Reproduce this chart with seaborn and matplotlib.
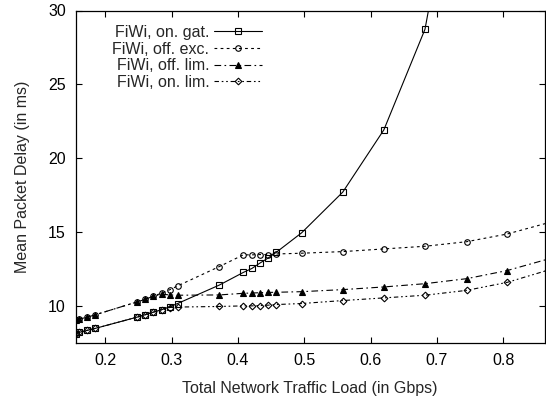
import numpy as np
import pandas as pd
import matplotlib
matplotlib.use("Agg")
import matplotlib.pyplot as plt
import seaborn as sns

# ---- data ----
load_all = [0.155, 0.161, 0.173, 0.185, 0.248, 0.260, 0.272, 0.285, 0.297, 0.309,
            0.372, 0.408, 0.421, 0.433, 0.446, 0.458, 0.496, 0.558, 0.620, 0.682,
            0.745, 0.806, 0.868]
load_gat = [0.155, 0.161, 0.173, 0.185, 0.248, 0.260, 0.272, 0.285, 0.297, 0.309,
            0.372, 0.408, 0.421, 0.433, 0.446, 0.458, 0.496, 0.558, 0.620, 0.682,
            0.745]

on_gat = [8.16, 8.24, 8.38, 8.51, 9.27, 9.43, 9.60, 9.77, 9.97, 10.19,
          11.44, 12.29, 12.56, 12.92, 13.28, 13.66, 14.97, 17.72, 21.93, 28.73,
          44.0]
off_exc = [9.05, 9.14, 9.27, 9.43, 10.30, 10.47, 10.70, 10.88, 11.12, 11.38,
           12.69, 13.48, 13.48, 13.50, 13.50, 13.54, 13.59, 13.70, 13.88, 14.06,
           14.37, 14.89, 15.65]
off_lim = [9.05, 9.14, 9.27, 9.43, 10.30, 10.47, 10.68, 10.82, 10.77, 10.75,
           10.77, 10.88, 10.90, 10.92, 10.94, 10.95, 10.99, 11.13, 11.31, 11.53,
           11.87, 12.42, 13.20]
on_lim = [8.16, 8.24, 8.38, 8.51, 9.27, 9.43, 9.60, 9.77, 9.92, 9.95,
          9.99, 10.03, 10.03, 10.05, 10.08, 10.12, 10.19, 10.39, 10.57, 10.75,
          11.08, 11.62, 12.45]

labels = ["FiWi, on. gat.", "FiWi, off. exc.", "FiWi, off. lim.", "FiWi, on. lim."]
x_ticks = [0.2, 0.3, 0.4, 0.5, 0.6, 0.7, 0.8]
y_ticks = [10, 15, 20, 25, 30]

# ---- style ----
sns.set_style("ticks")
plt.rcParams["font.family"] = ["Liberation Sans", "DejaVu Sans"]
plt.rcParams["font.size"] = 11.5

fig = plt.figure(figsize=(5.46, 3.98), dpi=100)
ax = fig.add_axes([75.5 / 546, 1 - 343.3 / 398, (545 - 75.5) / 546, (343.3 - 10.5) / 398])

series = [
    (load_gat, on_gat, labels[0], "s", "none", "-"),
    (load_all, off_exc, labels[1], "o", "none", (0, (2.5, 3))),
    (load_all, off_lim, labels[2], "^", "k", (0, (6, 3, 1.5, 3))),
    (load_all, on_lim, labels[3], "D", "none", (0, (4, 2.5, 1.5, 2.5, 1.5, 2.5))),
]
for xs, ys, lab, mk, fc, ls in series:
    df = pd.DataFrame({"load": xs, "delay": ys})
    ms = 4.0 if mk != "D" else 3.4
    sns.lineplot(data=df, x="load", y="delay", ax=ax, color="k", lw=0.8,
                 linestyle=ls, marker=mk, markersize=ms, markerfacecolor=fc,
                 markeredgecolor="k", markeredgewidth=0.8, label=lab,
                 clip_on=True)

ax.set_xlim(0.155, 0.863)
ax.set_ylim(7.5, 30)
ax.set_xticks(x_ticks)
ax.set_xticklabels([f"{v:.1f}" for v in x_ticks])
ax.set_yticks(y_ticks)
ax.set_yticklabels([str(v) for v in y_ticks])
ax.tick_params(direction="in", length=4, width=0.8, top=True, right=True,
               labelsize=11.5, pad=7, colors="k")
for sp in ax.spines.values():
    sp.set_linewidth(0.9)
    sp.set_color("k")
    sp.set_visible(True)

ax.set_xlabel("Total Network Traffic Load (in Gbps)", fontsize=11.5, labelpad=9)
ax.set_ylabel("Mean Packet Delay (in ms)", fontsize=11.5, labelpad=13)

leg = ax.legend(loc="upper right", bbox_to_anchor=(262 / 546, 1 - 25 / 398),
                bbox_transform=fig.transFigure, frameon=False, markerfirst=False,
                handlelength=3.0, handletextpad=0.3, labelspacing=0.1,
                borderpad=0, borderaxespad=0, fontsize=11.5)

fig.savefig("out.png", dpi=100)
